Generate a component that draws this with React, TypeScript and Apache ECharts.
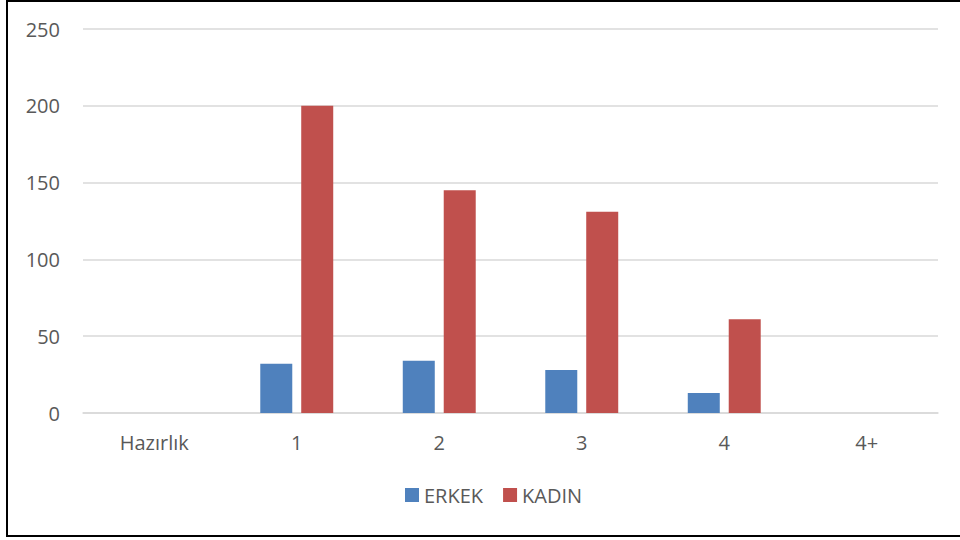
import React, { useEffect, useRef } from "react";
import * as echarts from "echarts";

const categories = ["Hazırlık", "1", "2", "3", "4", "4+"];
const erkek = [0, 32, 34, 28, 13, 0];
const kadin = [0, 200, 145, 131, 61, 0];
const yTicks = { min: 0, max: 250, interval: 50 };

export default function App() {
  const ref = useRef<HTMLDivElement>(null);
  useEffect(() => {
    if (!ref.current) return;
    const chart = echarts.init(ref.current, null, { renderer: "svg" });
    const font = "Open Sans";
    chart.setOption({
      animation: false,
      backgroundColor: "#ffffff",
      textStyle: { fontFamily: font },
      graphic: [
        {
          type: "rect",
          shape: { x: 7, y: 1, width: 970, height: 535 },
          style: { fill: "none", stroke: "#000000", lineWidth: 2 },
          z: 100,
        },
      ],
      grid: { left: 83, right: 22, top: 29, bottom: 127 },
      legend: {
        bottom: 30,
        left: 400,
        itemWidth: 14,
        itemHeight: 14,
        itemGap: 20,
        icon: "rect",
        textStyle: { color: "#595959", fontSize: 20, fontFamily: font },
      },
      xAxis: {
        type: "category",
        data: categories,
        axisLine: { lineStyle: { color: "#d9d9d9", width: 1.5 } },
        axisTick: { show: false },
        axisLabel: { color: "#595959", fontSize: 20, fontFamily: font, margin: 19 },
      },
      yAxis: {
        type: "value",
        min: yTicks.min,
        max: yTicks.max,
        interval: yTicks.interval,
        axisLine: { show: false },
        axisTick: { show: false },
        splitLine: { lineStyle: { color: "#d9d9d9", width: 1.5 } },
        axisLabel: { color: "#595959", fontSize: 20, fontFamily: font, margin: 23 },
      },
      series: [
        {
          name: "ERKEK",
          type: "bar",
          data: erkek,
          barWidth: 32,
          barGap: "28%",
          itemStyle: { color: "#4F81BD" },
        },
        {
          name: "KADIN",
          type: "bar",
          data: kadin,
          barWidth: 32,
          itemStyle: { color: "#C0504D" },
        },
      ],
    });
    return () => chart.dispose();
  }, []);
  return (
    <div
      ref={ref}
      style={{ position: "fixed", left: 0, top: 0, width: 960, height: 540 }}
    />
  );
}
